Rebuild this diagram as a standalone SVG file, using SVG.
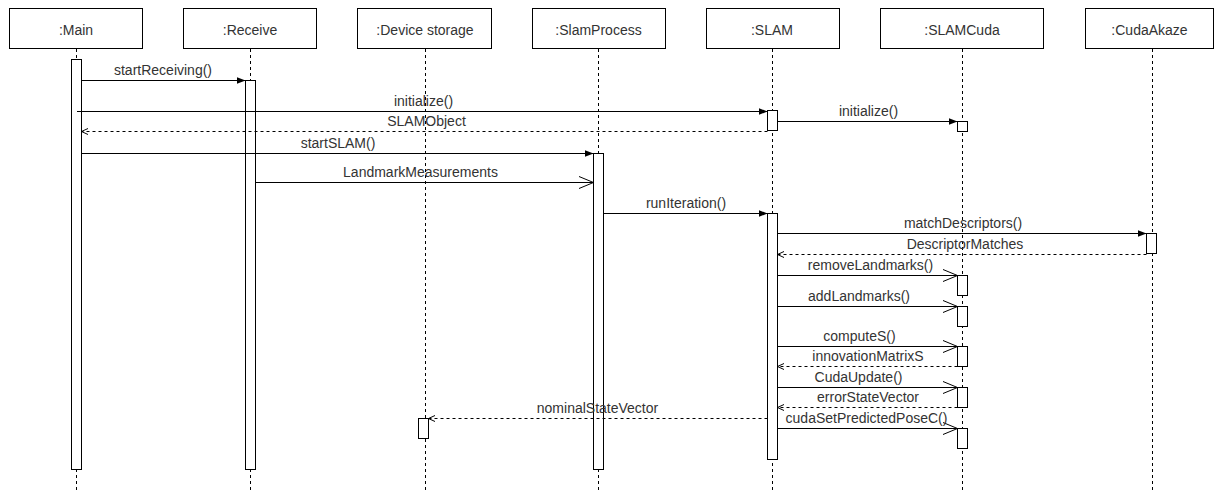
<svg xmlns="http://www.w3.org/2000/svg" width="1215" height="490" viewBox="0 0 1215 490">
  <style>
    .head { fill: #ffffff; stroke: #000000; stroke-width: 1; }
    .head-label { font-family: "Liberation Sans", Arial, sans-serif; font-size: 14px; fill: #333333; text-anchor: middle; }
    .life { stroke: #000000; stroke-width: 1; stroke-dasharray: 3 3; fill: none; }
    .act { fill: #ffffff; stroke: #000000; stroke-width: 1; }
    .msg { stroke: #000000; stroke-width: 1; fill: none; }
    .ret { stroke: #000000; stroke-width: 1; stroke-dasharray: 3 3; fill: none; }
    .lbl { font-family: "Liberation Sans", Arial, sans-serif; font-size: 14px; fill: #333333; text-anchor: middle; }
  </style>
  <defs>
    <marker id="block" markerUnits="userSpaceOnUse" markerWidth="10" markerHeight="8" refX="9" refY="3.5" orient="auto">
      <path d="M0,0 L9,3.5 L0,7 Z" fill="#000000" stroke="none"/>
    </marker>
    <marker id="open" markerUnits="userSpaceOnUse" markerWidth="16" markerHeight="14" refX="15" refY="6.5" orient="auto">
      <path d="M0.5,0.5 L15,6.5 L0.5,12.5" fill="none" stroke="#000000" stroke-width="1"/>
    </marker>
    <marker id="openSmall" markerUnits="userSpaceOnUse" markerWidth="8" markerHeight="8" refX="7" refY="3.5" orient="auto">
      <path d="M0.5,0.5 L7,3.5 L0.5,6.5" fill="none" stroke="#000000" stroke-width="1"/>
    </marker>
  </defs>

  <!-- Participants: header box, lifeline and activation bars -->
  <g id="main">
    <rect class="head" x="9.5" y="8.5" width="133" height="40"/>
    <text class="head-label" x="76" y="35">:Main</text>
    <line class="life" x1="76.5" y1="49" x2="76.5" y2="490"/>
    <rect class="act" x="71.5" y="59.5" width="10" height="410"/>
  </g>
  <g id="receive">
    <rect class="head" x="183.5" y="8.5" width="133" height="40"/>
    <text class="head-label" x="250" y="35">:Receive</text>
    <line class="life" x1="250.5" y1="49" x2="250.5" y2="490"/>
    <rect class="act" x="245.5" y="80.5" width="10" height="389"/>
  </g>
  <g id="device-storage">
    <rect class="head" x="357.5" y="8.5" width="134" height="40"/>
    <text class="head-label" x="425" y="35">:Device storage</text>
    <line class="life" x1="425.5" y1="49" x2="425.5" y2="490"/>
    <rect class="act" x="418.5" y="418.5" width="10" height="20"/>
  </g>
  <g id="slam-process">
    <rect class="head" x="532.5" y="8.5" width="133" height="40"/>
    <text class="head-label" x="598.5" y="35">:SlamProcess</text>
    <line class="life" x1="598.5" y1="49" x2="598.5" y2="490"/>
    <rect class="act" x="593.5" y="153.5" width="10" height="316"/>
  </g>
  <g id="slam">
    <rect class="head" x="706.5" y="8.5" width="133" height="40"/>
    <text class="head-label" x="772" y="35">:SLAM</text>
    <line class="life" x1="772.5" y1="49" x2="772.5" y2="490"/>
    <rect class="act" x="767.5" y="110.5" width="10" height="20"/>
    <rect class="act" x="767.5" y="213.5" width="10" height="246"/>
  </g>
  <g id="slam-cuda">
    <rect class="head" x="880.5" y="8.5" width="163" height="40"/>
    <text class="head-label" x="962" y="35">:SLAMCuda</text>
    <line class="life" x1="962.5" y1="49" x2="962.5" y2="490"/>
    <rect class="act" x="957.5" y="121.5" width="10" height="10"/>
    <rect class="act" x="957.5" y="275.5" width="10" height="20"/>
    <rect class="act" x="957.5" y="306.5" width="10" height="20"/>
    <rect class="act" x="957.5" y="346.5" width="10" height="20"/>
    <rect class="act" x="957.5" y="387.5" width="10" height="20"/>
    <rect class="act" x="957.5" y="428.5" width="10" height="20"/>
  </g>
  <g id="cuda-akaze">
    <rect class="head" x="1085.5" y="8.5" width="128" height="40"/>
    <text class="head-label" x="1149.5" y="35">:CudaAkaze</text>
    <line class="life" x1="1152.5" y1="49" x2="1152.5" y2="490"/>
    <rect class="act" x="1146.5" y="233.5" width="10" height="20"/>
  </g>

  <!-- Messages -->
  <g id="messages">
    <line class="msg" x1="81.5" y1="80.5" x2="245.5" y2="80.5" marker-end="url(#block)"/>
    <text class="lbl" x="163" y="74.5">startReceiving()</text>

    <line class="msg" x1="77" y1="111.5" x2="767.5" y2="111.5" marker-end="url(#block)"/>
    <text class="lbl" x="423.5" y="105.5">initialize()</text>

    <line class="ret" x1="767.5" y1="131.5" x2="81.5" y2="131.5" marker-end="url(#openSmall)"/>
    <text class="lbl" x="426.5" y="125.5">SLAMObject</text>

    <line class="msg" x1="777.5" y1="121.5" x2="957.5" y2="121.5" marker-end="url(#block)"/>
    <text class="lbl" x="868.5" y="115.5">initialize()</text>

    <line class="msg" x1="81.5" y1="153.5" x2="593.5" y2="153.5" marker-end="url(#block)"/>
    <text class="lbl" x="338" y="147.5">startSLAM()</text>

    <line class="msg" x1="255.5" y1="182.5" x2="593.5" y2="182.5" marker-end="url(#open)"/>
    <text class="lbl" x="420.5" y="176.5">LandmarkMeasurements</text>

    <line class="msg" x1="603.5" y1="213.5" x2="767.5" y2="213.5" marker-end="url(#block)"/>
    <text class="lbl" x="686" y="207.5">runIteration()</text>

    <line class="msg" x1="777.5" y1="233.5" x2="1146.5" y2="233.5" marker-end="url(#block)"/>
    <text class="lbl" x="963" y="228">matchDescriptors()</text>

    <line class="ret" x1="1146.5" y1="254.5" x2="777.5" y2="254.5" marker-end="url(#openSmall)"/>
    <text class="lbl" x="965" y="248.5">DescriptorMatches</text>

    <line class="msg" x1="777.5" y1="275.5" x2="957.5" y2="275.5" marker-end="url(#open)"/>
    <text class="lbl" x="870.5" y="269.5">removeLandmarks()</text>

    <line class="msg" x1="777.5" y1="306.5" x2="957.5" y2="306.5" marker-end="url(#open)"/>
    <text class="lbl" x="859" y="300.5">addLandmarks()</text>

    <line class="msg" x1="777.5" y1="346.5" x2="957.5" y2="346.5" marker-end="url(#open)"/>
    <text class="lbl" x="859.5" y="341">computeS()</text>

    <line class="ret" x1="957.5" y1="366.5" x2="777.5" y2="366.5" marker-end="url(#openSmall)"/>
    <text class="lbl" x="868" y="361">innovationMatrixS</text>

    <line class="msg" x1="777.5" y1="387.5" x2="957.5" y2="387.5" marker-end="url(#open)"/>
    <text class="lbl" x="858.5" y="382">CudaUpdate()</text>

    <line class="ret" x1="957.5" y1="407.5" x2="777.5" y2="407.5" marker-end="url(#openSmall)"/>
    <text class="lbl" x="868" y="402">errorStateVector</text>

    <line class="msg" x1="777.5" y1="428.5" x2="957.5" y2="428.5" marker-end="url(#open)"/>
    <text class="lbl" x="866.5" y="423">cudaSetPredictedPoseC()</text>

    <line class="ret" x1="767.5" y1="418.5" x2="428.5" y2="418.5" marker-end="url(#openSmall)"/>
    <text class="lbl" x="597.5" y="412.5">nominalStateVector</text>
  </g>
</svg>
